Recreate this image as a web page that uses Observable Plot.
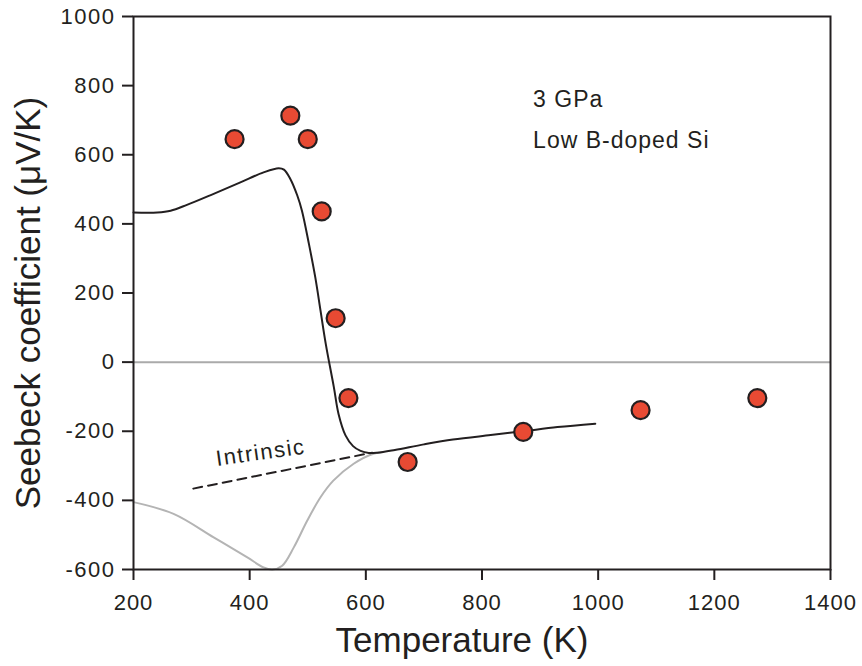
<!DOCTYPE html>
<html>
<head>
<meta charset="utf-8">
<script src="https://cdn.jsdelivr.net/npm/d3@7"></script>
<script src="https://cdn.jsdelivr.net/npm/@observablehq/plot@0.6"></script>
<style>
  html, body { margin: 0; padding: 0; background: #fff; }
  #chart svg { font-family: "Liberation Sans", Arial, sans-serif; }
  g[aria-label="x-axis tick label"] text { letter-spacing: 1px; }
  g[aria-label="y-axis tick label"] text { letter-spacing: 1.5px; }
  .note text { letter-spacing: 1px; }
  .intr text { letter-spacing: 1.6px; }
</style>
</head>
<body>
<div id="chart"></div>
<script>
// Measured data points (Temperature K, Seebeck µV/K)
const pointT = [374, 470, 500, 524, 548, 570, 672, 871, 1073, 1274];
const pointS = [645, 713, 645, 436, 127, -104, -289, -202, -139, -104];

// Black calculated curve
const blackT = [200, 241, 264, 292, 338, 384, 424, 450, 459, 470, 482, 490, 502, 513, 522, 531, 545, 553, 565, 578, 591, 605, 620, 650, 700, 750, 815, 871, 930, 995];
const blackS = [433, 433, 438, 455, 487, 520, 549, 561, 557, 530, 482, 438, 342, 245, 149, 53, -73, -150, -212, -243, -257, -263, -262, -254, -238, -224, -211, -200, -188, -178];

// Gray curve
const grayT = [200, 269, 338, 396, 424, 439, 456, 476, 499, 522, 544, 579, 613, 630];
const grayS = [-405, -439, -507, -565, -594, -600, -589, -536, -459, -391, -343, -294, -265, -260];

// Dashed intrinsic line
const intrT = [303, 611];
const intrS = [-366, -262];

const xTicks = [200, 400, 600, 800, 1000, 1200, 1400];
const yTicks = [-600, -400, -200, 0, 200, 400, 600, 800, 1000];

const xLabel = "Temperature (K)";
const yLabel = "Seebeck coefficient (μV/K)";
const notes = [
  {t: 888, s: 760, text: "3 GPa"},
  {t: 888, s: 641, text: "Low B-doped Si"}
];
const intrLabel = {t: 419, s: -262, text: "Intrinsic"};

const toRows = (xs, ys) => xs.map((x, i) => ({x, y: ys[i]}));
const points = toRows(pointT, pointS);
const black = toRows(blackT, blackS);
const gray = toRows(grayT, grayS);
const intr = toRows(intrT, intrS);

const ink = "#231f20";
const fmt = d => String(d);

const chart = Plot.plot({
  width: 862,
  height: 666,
  marginLeft: 133,
  marginRight: 32,
  marginTop: 16,
  marginBottom: 97,
  x: {domain: [200, 1400]},
  y: {domain: [-600, 1000]},
  marks: [
    Plot.ruleY([0], {stroke: "#aaaaaa", strokeWidth: 2}),
    Plot.line(gray, {x: "x", y: "y", stroke: "#b4b4b4", strokeWidth: 2, curve: "catmull-rom"}),
    Plot.line(intr, {x: "x", y: "y", stroke: ink, strokeWidth: 2, strokeDasharray: "9,6"}),
    Plot.line(black, {x: "x", y: "y", stroke: ink, strokeWidth: 2, curve: "catmull-rom"}),
    Plot.dot(points, {x: "x", y: "y", r: 9, fill: "#e84a33", stroke: ink, strokeWidth: 2.2}),
    Plot.text(notes, {x: "t", y: "s", text: "text", textAnchor: "start", fontSize: 23, fill: ink, className: "note"}),
    Plot.text([intrLabel], {x: "t", y: "s", text: "text", rotate: -8, fontSize: 22, fill: ink, className: "intr"}),
    Plot.frame({stroke: ink, strokeWidth: 2}),
    Plot.axisX({ticks: xTicks, tickFormat: fmt, tickSize: 11, tickPadding: 14, strokeWidth: 2, stroke: ink, fill: ink, fontSize: 22, label: null}),
    Plot.axisY({ticks: yTicks, tickFormat: fmt, tickSize: 11, tickPadding: 7, strokeWidth: 2, stroke: ink, fill: ink, fontSize: 22, label: null}),
    Plot.text([xLabel], {frameAnchor: "bottom", dx: -20, dy: 71, lineAnchor: "middle", textAnchor: "middle", fontSize: 35, fill: ink}),
    Plot.text([yLabel], {frameAnchor: "left", dx: -105, dy: 10, rotate: -90, lineAnchor: "middle", textAnchor: "middle", fontSize: 35, fill: ink})
  ]
});
document.getElementById("chart").appendChild(chart);
</script>
</body>
</html>
